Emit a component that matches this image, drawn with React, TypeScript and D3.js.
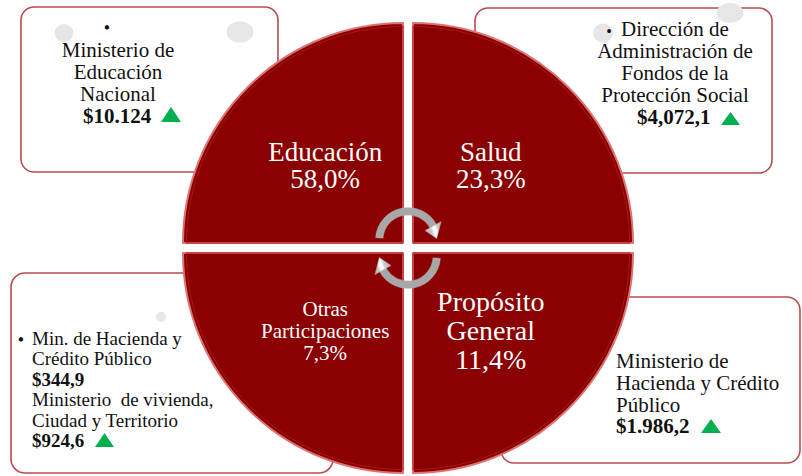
import React from "react";
import * as d3 from "d3";

// ---------- data ----------
const categoryLines: string[][] = [["Salud"], ["Propósito", "General"], ["Otras", "Participaciones"], ["Educación"]];
const categoryShares: number[] = [23.3, 11.4, 7.3, 58.0];

const boxTLLines = ["Ministerio de", "Educación", "Nacional"];
const boxTLAmount = "$10.124";
const boxTRLines = ["Dirección de", "Administración de", "Fondos de la", "Protección Social"];
const boxTRAmount = "$4,072,1";
const boxBLLines = ["Min. de Hacienda y", "Crédito Público", "$344,9", "Ministerio  de vivienda,", "Ciudad y Territorio", "$924,6"];
const boxBRLines = ["Ministerio de", "Hacienda y Crédito", "Público"];
const boxBRAmount = "$1.986,2";

// ---------- layout / style ----------
const W = 802, H = 476;
const CX = 408, CY = 248, R = 220, GAP = 5;
const RED = "#8b0000";
const GREEN = "#00b050";
const FONT = "'Liberation Serif', 'Times New Roman', serif";
const BORDER = "#b94c4f";
const DOT = "#e8e5e6";

const catStyle = [
  { fs: 27, lh: 27 },
  { fs: 28, lh: 29 },
  { fs: 21, lh: 22 },
  { fs: 27, lh: 27 },
];

const fmtPct = (v: number) => d3.format(".1f")(v).replace(".", ",") + "%";

function Tri({ x0, x1, y0, y1 }: { x0: number; x1: number; y0: number; y1: number }) {
  const p = d3.path();
  p.moveTo(x0, y1);
  p.lineTo((x0 + x1) / 2, y0);
  p.lineTo(x1, y1);
  p.closePath();
  return <path d={p.toString()} fill={GREEN} />;
}

function polar(cx: number, cy: number, r: number, a: number): [number, number] {
  return [cx + r * Math.sin(a), cy - r * Math.cos(a)];
}

function Arrow({ id, cx, cy, a0, a1, tip }: { id: string; cx: number; cy: number; a0: number; a1: number; tip: number }) {
  const rIn = 25, rOut = 32.5, rMid = 28.75;
  const band = d3.arc<any>().innerRadius(rIn).outerRadius(rOut).startAngle(a0).endAngle(a1)({} as any) as string;
  const dir = Math.sign(tip - a1);
  const b1 = polar(cx, cy, 19.5, a1 - dir * 0.02);
  const b2 = polar(cx, cy, 38, a1 - dir * 0.02);
  const t = polar(cx, cy, rMid, tip);
  return (
    <g>
      <defs>
        <radialGradient id={id} gradientUnits="userSpaceOnUse" cx={cx} cy={cy} r={38}>
          <stop offset="0.5" stopColor="#b4b4b4" />
          <stop offset="0.66" stopColor="#c9c9c9" />
          <stop offset="0.73" stopColor="#ffffff" />
          <stop offset="0.8" stopColor="#f2f2f2" />
          <stop offset="0.86" stopColor="#c6c6c6" />
          <stop offset="1" stopColor="#a8a8a8" />
        </radialGradient>
      </defs>
      <path d={band} transform={`translate(${cx},${cy})`} fill={`url(#${id})`} stroke="#b0b0b0" strokeWidth={0.4} />
      <path d={`M${b1[0]},${b1[1]}L${b2[0]},${b2[1]}L${t[0]},${t[1]}Z`} fill={`url(#${id})`} stroke="#b0b0b0" strokeWidth={0.4} />
    </g>
  );
}

export default function App() {
  const arc = d3.arc<any>().innerRadius(0).outerRadius(R);
  const q = Math.PI / 2;
  const quads = categoryLines.map((lines, i) => {
    const a0 = i * q, a1 = (i + 1) * q, mid = (a0 + a1) / 2;
    const dx = Math.sign(Math.sin(mid)) * GAP;
    const dy = -Math.sign(Math.cos(mid)) * GAP;
    const d = arc({ startAngle: a0, endAngle: a1 } as any) as string;
    const c = arc.centroid({ startAngle: a0, endAngle: a1 } as any);
    return { lines: [...lines, fmtPct(categoryShares[i])], d, ox: CX + dx, oy: CY + dy, c, st: catStyle[i] };
  });

  const txt = { fontFamily: FONT, fill: "#111" } as const;

  return (
    <svg width={W} height={H} style={{ position: "absolute", left: 0, top: 0, background: "#fff" }}>
      {/* boxes (behind circle) */}
      <g>
        <rect x={21} y={7} width={257} height={165} rx={13} fill="#fff" stroke={BORDER} strokeWidth={1.6} />
        <ellipse cx={64} cy={33} rx={9.5} ry={9} fill={DOT} />
        <ellipse cx={240} cy={32} rx={13.5} ry={10.5} fill={DOT} />

        <rect x={475} y={8} width={297} height={165} rx={13} fill="#fff" stroke={BORDER} strokeWidth={1.6} />
        <ellipse cx={730} cy={13} rx={13.5} ry={10} fill={DOT} />
        <ellipse cx={603} cy={33} rx={10} ry={9.5} fill={DOT} />

        <rect x={11} y={273} width={322} height={200} rx={14} fill="#fff" stroke={BORDER} strokeWidth={1.6} />
        <ellipse cx={161} cy={317} rx={5} ry={5} fill={DOT} />

        <rect x={501} y={297} width={299} height={166} rx={13} fill="#fff" stroke={BORDER} strokeWidth={1.6} />
      </g>

      {/* box texts */}
      <g {...txt}>
        <text x={107} y={34} fontSize={18} textAnchor="middle">•</text>
        {boxTLLines.map((s, i) => (
          <text key={s} x={118} y={57 + i * 22} fontSize={21} textAnchor="middle">{s}</text>
        ))}
        <text x={83} y={123} fontSize={21} fontWeight="bold">{boxTLAmount}</text>
        <Tri x0={161} x1={181} y0={107} y1={122} />

        <text x={609} y={36.5} fontSize={16} textAnchor="middle">•</text>
        <text x={621} y={36} fontSize={21}>{boxTRLines[0]}</text>
        {boxTRLines.slice(1).map((s, i) => (
          <text key={s} x={675} y={58 + i * 22} fontSize={21} textAnchor="middle">{s}</text>
        ))}
        <text x={637} y={124} fontSize={21} fontWeight="bold">{boxTRAmount}</text>
        <Tri x0={721} x1={740} y0={112} y1={125} />

        <text x={21} y={346} fontSize={18} textAnchor="middle">•</text>
        {boxBLLines.map((s, i) => (
          <text key={s} x={32} y={345 + i * 20.4} fontSize={19} fontWeight={s.startsWith("$") ? "bold" : "normal"} style={{ whiteSpace: "pre" }}>{s}</text>
        ))}
        <Tri x0={95} x1={114} y0={433} y1={447} />

        {boxBRLines.map((s, i) => (
          <text key={s} x={616} y={368 + i * 22} fontSize={21}>{s}</text>
        ))}
        <text x={616} y={433} fontSize={21} fontWeight="bold">{boxBRAmount}</text>
        <Tri x0={701} x1={721} y0={419} y1={433} />
      </g>

      {/* circle quadrants */}
      {quads.map((qd, i) => (
        <g key={i} transform={`translate(${qd.ox},${qd.oy})`}>
          <path d={qd.d} fill={RED} stroke="#dc7272" strokeWidth={2} strokeLinejoin="round" />
          <path d={qd.d} fill="none" stroke="#a51818" strokeWidth={1} transform="scale(0.985)" />
          {qd.lines.map((s, j) => (
            <text
              key={j}
              x={qd.c[0]}
              y={qd.c[1] - ((qd.lines.length - 1) * qd.st.lh) / 2 + 0.33 * qd.st.fs + j * qd.st.lh}
              fontSize={qd.st.fs}
              fontFamily={FONT}
              fill="#fff"
              textAnchor="middle"
            >
              {s}
            </text>
          ))}
        </g>
      ))}

      {/* circular arrows */}
      <Arrow id="arrTop" cx={408} cy={240} a0={-1.5} a1={1.08} tip={1.52} />
      <Arrow id="arrBot" cx={408} cy={256} a0={1.64} a1={4.22} tip={4.66} />
    </svg>
  );
}
